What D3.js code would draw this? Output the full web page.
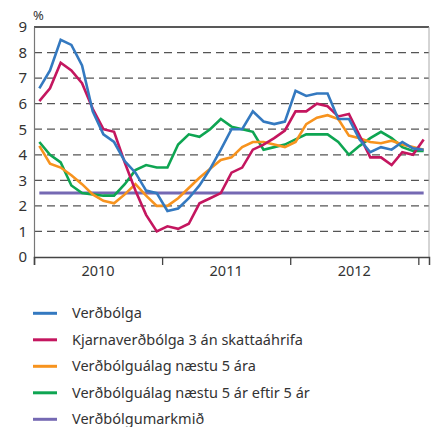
<!DOCTYPE html>
<html>
<head>
<meta charset="utf-8">
<script src="https://cdn.jsdelivr.net/npm/d3@7"></script>
<style>
  body { margin: 0; background: #fff; }
  text { font-family: "Noto Sans", sans-serif; fill: #333; }
</style>
</head>
<body>
<div id="chart"></div>
<script>
// monthly values, Jan 2010 - Jan 2013
var verdbolga = [6.6, 7.3, 8.5, 8.3, 7.5, 5.7, 4.8, 4.5, 3.75, 3.3, 2.6, 2.5,
    1.8, 1.9, 2.3, 2.8, 3.45, 4.2, 5.0, 5.0, 5.7, 5.3, 5.2, 5.3,
    6.5, 6.3, 6.4, 6.4, 5.4, 5.4, 4.6, 4.1, 4.3, 4.2, 4.5, 4.25, 4.2];
var kjarna = [6.1, 6.6, 7.6, 7.3, 6.8, 5.8, 5.0, 4.9, 3.7, 2.6, 1.65, 1.0,
    1.2, 1.1, 1.3, 2.1, 2.3, 2.5, 3.3, 3.5, 4.2, 4.4, 4.65, 4.95,
    5.7, 5.7, 6.0, 5.9, 5.5, 5.6, 4.75, 3.9, 3.9, 3.6, 4.1, 4.0, 4.6];
var alag5 = [4.35, 3.65, 3.5, 3.2, 2.85, 2.45, 2.2, 2.1, 2.45, 2.85, 2.4, 2.0,
    2.0, 2.3, 2.7, 3.1, 3.45, 3.8, 3.9, 4.3, 4.5, 4.5, 4.4, 4.3,
    4.5, 5.2, 5.45, 5.55, 5.4, 4.75, 4.65, 4.5, 4.45, 4.55, 4.4, 4.3, 4.2];
var alag5eftir5 = [4.5, 4.0, 3.7, 2.8, 2.5, 2.45, 2.4, 2.4, 2.85, 3.4, 3.6, 3.5,
    3.5, 4.4, 4.8, 4.7, 5.0, 5.4, 5.1, 5.0, 4.9, 4.2, 4.3, 4.4,
    4.6, 4.8, 4.8, 4.8, 4.5, 4.0, 4.35, 4.65, 4.9, 4.65, 4.3, 4.15, 4.15];
var markmid = [2.5, 2.5, 2.5, 2.5, 2.5, 2.5, 2.5, 2.5, 2.5, 2.5, 2.5, 2.5,
    2.5, 2.5, 2.5, 2.5, 2.5, 2.5, 2.5, 2.5, 2.5, 2.5, 2.5, 2.5,
    2.5, 2.5, 2.5, 2.5, 2.5, 2.5, 2.5, 2.5, 2.5, 2.5, 2.5, 2.5, 2.5];

var years = ["2010", "2011", "2012"];
var yTicks = [0, 1, 2, 3, 4, 5, 6, 7, 8, 9];

var series = [
    ["Verðbólga", verdbolga, "#3479c0"],
    ["Kjarnaverðbólga 3 án skattaáhrifa", kjarna, "#c4165f"],
    ["Verðbólguálag næstu 5 ára", alag5, "#f7931e"],
    ["Verðbólguálag næstu 5 ár eftir 5 ár", alag5eftir5, "#0ea552"],
    ["Verðbólgumarkmið", markmid, "#7569b3"]
];

var width = 433, height = 427;
var margin = {left: 34, right: 4, top: 27, bottom: 170};

var svg = d3.select("#chart")
    .append("svg")
    .attr("width", width)
    .attr("height", height);

var x = d3.scaleLinear()
    .domain([0, 37])
    .range([margin.left, width - margin.right]);

var y = d3.scaleLinear()
    .domain([0, 9])
    .range([height - margin.bottom, margin.top]);

// dashed grid
svg.append("g")
    .selectAll("line")
    .data(yTicks.filter(function(d) { return d > 0 && d < 9; }))
    .enter()
    .append("line")
    .attr("x1", x(0))
    .attr("x2", x(37))
    .attr("y1", function(d) { return y(d); })
    .attr("y2", function(d) { return y(d); })
    .attr("stroke", "#555")
    .attr("stroke-width", 1.3)
    .attr("stroke-dasharray", "8,5");

// frame
svg.append("line").attr("x1", x(0)).attr("x2", x(37)).attr("y1", y(9)).attr("y2", y(9))
    .attr("stroke", "#222").attr("stroke-width", 1.5);
svg.append("line").attr("x1", x(37)).attr("x2", x(37)).attr("y1", y(9)).attr("y2", y(0))
    .attr("stroke", "#aaa").attr("stroke-width", 1);

// y axis
var yAxis = svg.append("g")
    .attr("transform", "translate(" + x(0) + ",0)")
    .call(d3.axisLeft(y).tickValues(yTicks).tickSize(0).tickPadding(7));
yAxis.select(".domain").attr("stroke", "#777").attr("stroke-width", 1.2);
yAxis.selectAll("text").style("font-size", "15px").attr("fill", "#333");

svg.append("text")
    .attr("x", 33)
    .attr("y", 20)
    .style("font-size", "13px")
    .text("%");

// x axis: month ticks at year boundaries
var xAxis = svg.append("g")
    .attr("transform", "translate(0," + y(0) + ")")
    .call(d3.axisBottom(x).tickValues([0, 12, 24, 36]).tickSize(8).tickFormat(""));
xAxis.select(".domain").attr("stroke", "#444").attr("stroke-width", 1.5);
xAxis.selectAll("line").attr("stroke", "#444").attr("stroke-width", 1.3);

svg.append("g")
    .selectAll("text")
    .data(years)
    .enter()
    .append("text")
    .attr("x", function(d, i) { return x(i * 12 + 6); })
    .attr("y", y(0) + 19)
    .attr("text-anchor", "middle")
    .style("font-size", "14.5px")
    .text(function(d) { return d; });

var line = d3.line()
    .x(function(d, i) { return x(i + 0.5); })
    .y(function(d) { return y(d); });

// purple target drawn first, then the rest on top
var drawOrder = [4, 3, 2, 1, 0];
drawOrder.forEach(function(k) {
    svg.append("path")
        .datum(series[k][1])
        .attr("fill", "none")
        .attr("stroke", series[k][2])
        .attr("stroke-width", k == 4 ? 3 : 2.6)
        .attr("stroke-linejoin", "miter")
        .attr("d", line);
});

// legend
var legend = svg.append("g")
    .selectAll("g")
    .data(series)
    .enter()
    .append("g")
    .attr("transform", function(d, i) { return "translate(33," + (313.3 + i * 26.5) + ")"; });

legend.append("line")
    .attr("x1", 0)
    .attr("x2", 24)
    .attr("stroke", function(d) { return d[2]; })
    .attr("stroke-width", 3);

legend.append("text")
    .attr("x", 39)
    .attr("dy", "0.35em")
    .style("font-size", "14.5px")
    .text(function(d) { return d[0]; });
</script>
</body>
</html>
